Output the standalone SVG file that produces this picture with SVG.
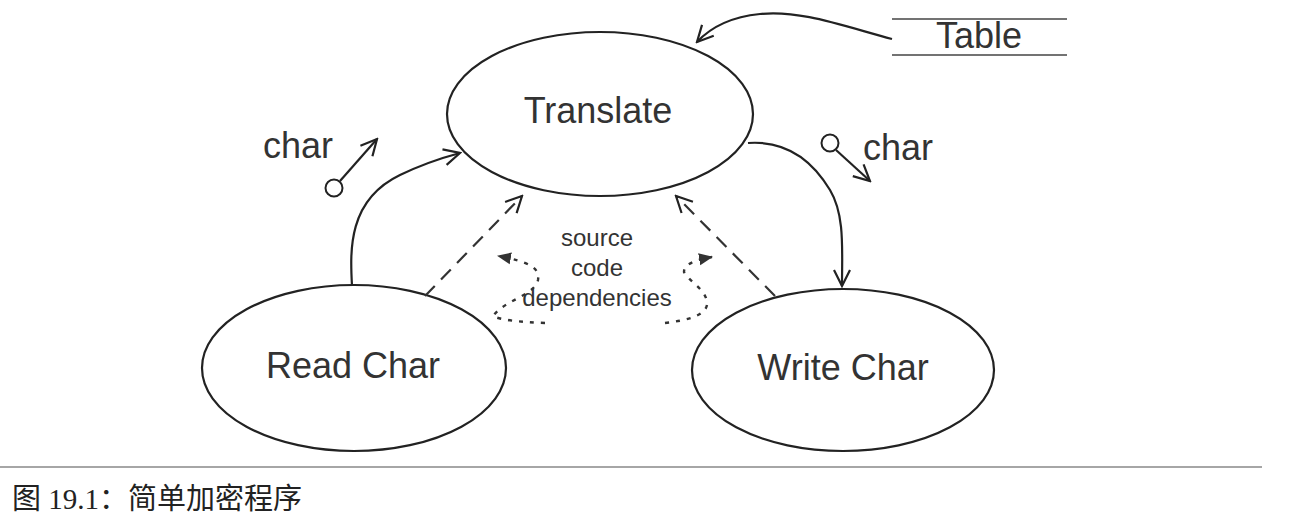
<svg xmlns="http://www.w3.org/2000/svg" width="1292" height="532" viewBox="0 0 1292 532">
<style>
.node{fill:#fff;stroke:#222;stroke-width:2.2}
.lbl{font-family:"Liberation Sans",Arial,sans-serif;fill:#333;text-anchor:middle}
.big{font-size:36px}
.small{font-size:24px}
.line{fill:none;stroke:#222;stroke-width:2.2}
.dash{fill:none;stroke:#333;stroke-width:2.2;stroke-dasharray:14 9}
.dot{fill:none;stroke:#333;stroke-width:2.4;stroke-dasharray:4 7}
.open{fill:none;stroke:#222;stroke-width:2.2}
</style>
<defs>
<marker id="v" viewBox="0 0 20 20" refX="18" refY="10" markerWidth="20" markerHeight="20" markerUnits="userSpaceOnUse" orient="auto">
<path d="M2 2 L18 10 L2 18" class="open"/>
</marker>
<marker id="tri" viewBox="0 0 14 14" refX="13" refY="7" markerWidth="14" markerHeight="14" markerUnits="userSpaceOnUse" orient="auto">
<path d="M0 1 L14 7 L0 13 Z" fill="#333"/>
</marker>
</defs>
<rect width="1292" height="532" fill="#fff"/>
<g id="translate">
<ellipse class="node" cx="600" cy="114" rx="153" ry="82"/>
<text class="lbl big" x="598" y="123">Translate</text>
</g>
<g id="readchar">
<ellipse class="node" cx="354" cy="368" rx="152" ry="83"/>
<text class="lbl big" x="353" y="378">Read Char</text>
</g>
<g id="writechar">
<ellipse class="node" cx="843" cy="370" rx="151" ry="81"/>
<text class="lbl big" x="843" y="380">Write Char</text>
</g>
<g id="table">
<line x1="892" y1="19" x2="1067" y2="19" stroke="#444" stroke-width="1.6"/>
<line x1="892" y1="55" x2="1067" y2="55" stroke="#444" stroke-width="1.6"/>
<text class="lbl big" x="979" y="48">Table</text>
</g>
<g id="connectors">
<path class="line" d="M892 39 C 840 25, 800 10, 760 14 C 730 17, 710 28, 697 42" marker-end="url(#v)"/>
<path class="line" d="M352 286 C 350 250, 348 200, 400 175 C 425 163, 445 157, 460 153" marker-end="url(#v)"/>
<path class="line" d="M748 143 C 790 140, 815 165, 830 190 C 845 215, 842 250, 842 286" marker-end="url(#v)"/>
<path class="dash" d="M425 296 L522 196" marker-end="url(#v)"/>
<path class="dash" d="M775 296 L676 196" marker-end="url(#v)"/>
<path class="dot" d="M545 323 C 520 322, 500 320, 493 316 C 505 300, 535 295, 538 280 C 540 268, 530 262, 498 256" marker-end="url(#tri)"/>
<path class="dot" d="M665 323 C 690 320, 705 315, 707 305 C 708 290, 690 283, 684 272 C 684 264, 695 260, 712 257" marker-end="url(#tri)"/>
<g id="lollipop-left">
<circle cx="334" cy="188" r="8.5" fill="#fff" stroke="#222" stroke-width="2"/>
<path class="line" d="M340 181 L377 139" marker-end="url(#v)"/>
<text class="lbl big" x="298" y="158">char</text>
</g>
<g id="lollipop-right">
<circle cx="830" cy="143" r="8.5" fill="#fff" stroke="#222" stroke-width="2"/>
<path class="line" d="M836 150 L870 181" marker-end="url(#v)"/>
<text class="lbl big" x="898" y="160">char</text>
</g>
<text class="lbl small" x="597" y="246">source</text>
<text class="lbl small" x="597" y="276">code</text>
<text class="lbl small" x="597" y="306">dependencies</text>
</g>
<line x1="0" y1="467" x2="1262" y2="467" stroke="#888" stroke-width="1.5"/>
<text x="12" y="509" font-family="'Liberation Serif','Noto Sans CJK SC',serif" font-size="29" fill="#222">图 19.1：简单加密程序</text>
</svg>
